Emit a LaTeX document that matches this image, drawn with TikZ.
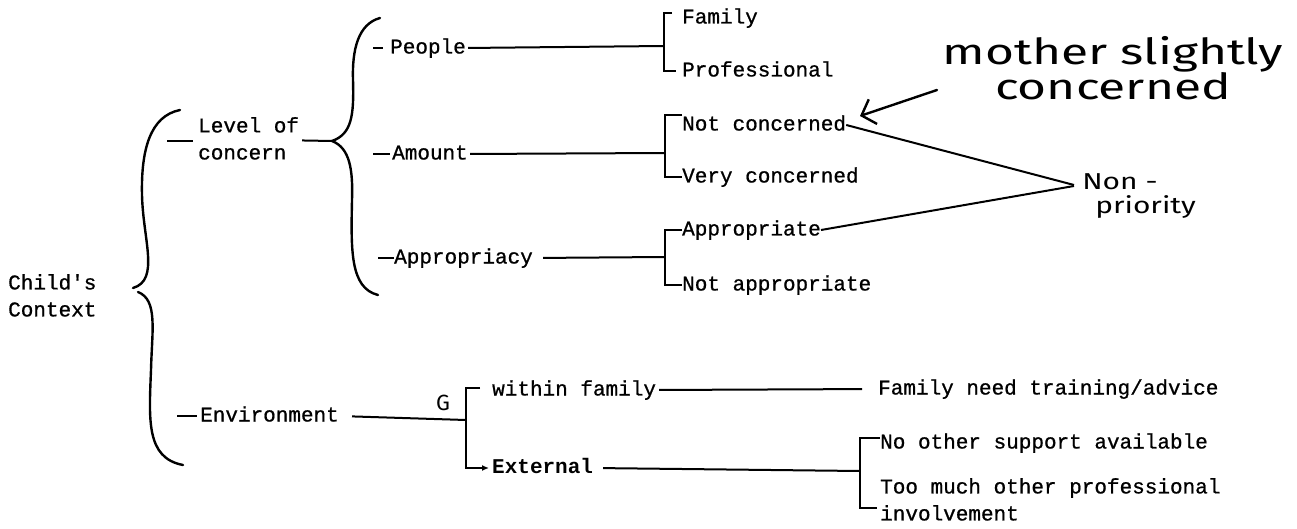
\documentclass[tikz,border=0pt]{standalone}
\usepackage{fontspec}
\setmonofont{Liberation Mono}[UprightFeatures={FakeBold=0.8}]
\newfontfamily\handfont{Fira Sans}
\usetikzlibrary{arrows.meta,calc}

% short rule in front of a typed entry
\newcommand\lead[1]{\rule[4.5pt]{#1}{2pt}}

\tikzset{
    entry/.style={
        anchor=west,
        inner sep=0pt,
        text height=15pt,
        text depth=4pt,
        font=\ttfamily\fontsize{21}{27}\selectfont,
    },
    strong/.style={
        entry,
        font=\ttfamily\bfseries\fontsize{21}{27}\selectfont,
    },
    block/.style={
        anchor=north west,
        inner sep=0pt,
        align=left,
        font=\ttfamily\fontsize{21}{27}\selectfont,
    },
    link/.style={
        line width=2pt,
    },
    curly/.style={
        line width=2.4pt,
        line cap=round,
    },
    scrawl/.style={
        inner sep=0pt,
        transform shape,
    },
    scrawl line/.style={
        line width=2.4pt,
        line cap=round,
    },
}

\begin{document}
\begin{tikzpicture}[x=1pt,y=-1pt]
    \useasboundingbox (0,0) rectangle (1297,529);

    \node[block](ctx) at (8,274) {Child's\\Context};

    % outer brace
    \draw[curly] (180,110) .. controls (150,116) and (141,150) .. (142,195)
        .. controls (143,240) and (160,280) .. (133,288);
    \draw[curly] (138,292) .. controls (158,300) and (152,330) .. (151,370)
        .. controls (149,420) and (146,458) .. (183,465);

    \node[block](loc) at (198,117) {Level of\\concern};
    \node[entry](env) at (177,416) {\lead{20pt}\hspace{3pt}Environment};

    % brace under level of concern
    \coordinate (tip2) at (332,141);
    \draw[curly] (380,18) .. controls (358,24) and (352,50) .. (353,80)
        .. controls (354,115) and (352,134) .. (tip2)
        .. controls (350,148) and (353,170) .. (352,200)
        .. controls (351,250) and (350,288) .. (378,295);
    \draw[link] ([xshift=-31pt,yshift=-3pt]loc.west) -- ([xshift=-5pt,yshift=-3pt]loc.west);
    \draw[link,shorten <=3pt] ([yshift=-2pt]loc.east) -- (tip2);

    \node[entry](ppl) at (373,48) {\lead{10pt}\hspace{7pt}People};
    \node[entry](amt) at (373,154) {\lead{17pt}\hspace{2pt}Amount};
    \node[entry](app) at (378,258) {\lead{16pt}Appropriacy};

    \node[entry](fam) at (682,18) {Family};
    \node[entry](pro) at (682,71) {Professional};
    \node[entry](notc) at (682,125) {Not concerned};
    \node[entry](veryc) at (682,177) {Very concerned};
    \node[entry](appr) at (682,230) {Appropriate};
    \node[entry](notappr) at (682,285) {Not appropriate};

    \coordinate (bP) at (664,46);
    \coordinate (bA) at (665,153);
    \coordinate (bR) at (665,257);

    \draw[link,shorten <=2pt] (ppl.east) -- (bP);
    \draw[link,shorten <=2pt] (amt.east) -- (bA);
    \draw[link,shorten <=10pt] (app.east) -- (bR);
    \draw[link,shorten <=10pt,shorten >=6pt] ([yshift=5pt]fam.west) -| (bP) |- (pro.west);
    \draw[link] (notc.north west) -| (bA) |- (veryc.west);
    \draw[link] (appr.west) -| (bR) |- (notappr.west);

    % environment branch
    \node[entry](within) at (492,390) {within family};
    \node[strong](ext) at (492,468) {External};
    \node[entry](famneed) at (878,389) {Family need training/advice};
    \node[entry](nosupp) at (880,443) {No other support available};
    \node[block](toomuch) at (880,478) {Too much other professional\\involvement};

    \coordinate (bE) at (466,420);
    \coordinate (bX) at (860,471);
    \coordinate (tmend) at (877,508);

    \draw[link,shorten <=13pt] (env.east) -- (bE);
    \draw[link,shorten <=12pt,shorten >=3pt,-{Latex[length=7pt,width=6pt]}]
        ([yshift=2pt]within.west) -| (bE) |- (ext.west);
    \draw[link,shorten <=3pt,shorten >=16pt] (within.east) -- (famneed.west);
    \draw[link,shorten <=10pt] (ext.east) -- (bX);
    \draw[link] ([yshift=5pt]nosupp.west) -| (bX) |- (tmend);

    % pencil notes
    \node[scrawl,anchor=north,xscale=1.38,align=center,
        font=\handfont\fontsize{36}{31}\selectfont](note) at (1113,36) {mother slightly\\concerned};
    \coordinate (ntail) at (937,90);
    \coordinate (ntip) at (860,116);
    \draw[scrawl line,-{Straight Barb[length=12pt,width=26pt]}] (ntail) -- (ntip);

    \node[scrawl,anchor=west,xscale=1.3,
        font=\handfont\fontsize{23}{23}\selectfont](non) at (1082,182) {Non -};
    \node[scrawl,anchor=west,xscale=1.3,
        font=\handfont\fontsize{23}{23}\selectfont](prio) at (1095,207) {priority};
    \draw[link] (notc.east) -- ([xshift=-8pt,yshift=-3pt]non.west);
    \draw[link] (appr.east) -- ([xshift=-8pt,yshift=-4pt]non.west);

    \node[scrawl,font=\handfont\fontsize{22}{22}\selectfont](gmark) at (443,403) {G};
\end{tikzpicture}
\end{document}
